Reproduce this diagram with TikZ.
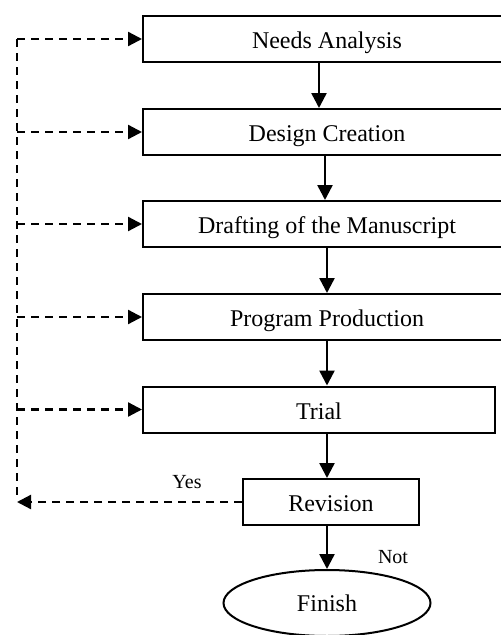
\documentclass[tikz,border=0pt]{standalone}
\usepackage{fontspec}
\setmainfont{Liberation Serif}
\usetikzlibrary{arrows.meta,shapes.geometric}
\begin{document}
\begin{tikzpicture}[x=1pt,y=-1pt,
  box/.style={draw,line width=2pt,rectangle,minimum height=46pt,inner sep=0pt,text height=19pt,text depth=0pt,font=\fontsize{24}{28}\selectfont},
  arr/.style={line width=2.5pt,-{Triangle[length=15pt,width=15pt]}},
  darr/.style={line width=2.3pt,dash pattern=on 8pt off 6pt,-{Triangle[length=14pt,width=14pt]}},
  dline/.style={line width=2.3pt,dash pattern=on 8pt off 6pt},
  lbl/.style={font=\fontsize{20}{24}\selectfont,inner sep=0pt}]
\useasboundingbox (0,0) rectangle (501,635);
\begin{scope}
\clip (0,0) rectangle (501,635);
\node[box,minimum width=368pt] (b1) at (327,39) {Needs Analysis};
\node[box,minimum width=368pt] (b2) at (327,132) {Design Creation};
\node[box,minimum width=368pt] (b3) at (327,224) {Drafting of the Manuscript};
\node[box,minimum width=368pt] (b4) at (327,317) {Program Production};
\node[box,minimum width=352pt] (b5) at (319,409.5) {Trial};
\node[box,minimum width=176pt] (rev) at (331,502) {Revision};
\node[draw,line width=2pt,ellipse,minimum width=207pt,minimum height=66pt,inner sep=0pt,font=\fontsize{24}{28}\selectfont] (fin) at (327,603) {Finish};

\draw[arr] ([xshift=-8pt]b1.south) -- ([xshift=-8pt]b2.north);
\draw[arr] ([xshift=-2pt]b2.south) -- ([xshift=-2pt]b3.north);
\draw[arr] (b3.south) -- (b4.north);
\draw[arr] (b4.south) -- (b4.south |- b5.north);
\draw[arr] (b5.south -| 327,0) -- (rev.north -| 327,0);
\draw[arr] (rev.south -| 327,0) -- (fin.north);

\coordinate (top) at (17,39);
\coordinate (bot) at (17,495);
\coordinate (yes) at (17,502);
\draw[dline] (top) -- (bot);
\draw[darr] (top) -- (b1.west);
\draw[darr] (top |- b2.west) -- (b2.west);
\draw[darr] (top |- b3.west) -- (b3.west);
\draw[darr] (top |- b4.west) -- (b4.west);
\draw[darr] (top |- b5.west) -- (b5.west);
\draw[darr] (rev.west) -- (yes);

\node[lbl] (ly) at (187,482) {Yes};
\node[lbl] (ln) at (393,557) {Not};
\end{scope}
\end{tikzpicture}
\end{document}
